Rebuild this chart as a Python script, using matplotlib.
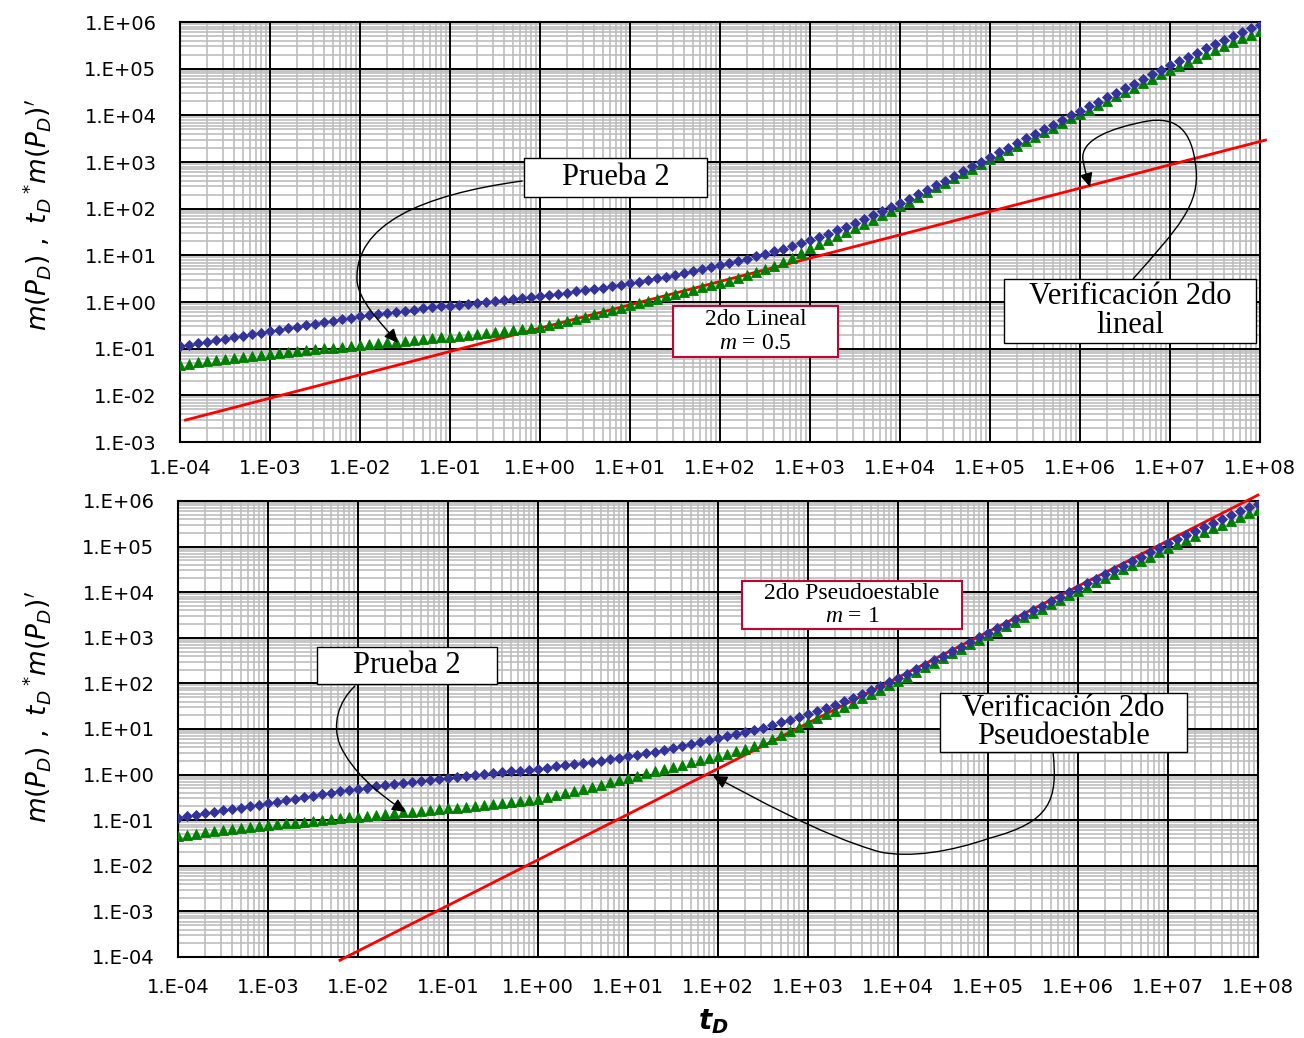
import numpy as np
import matplotlib
matplotlib.use("Agg")
import matplotlib.pyplot as plt
from matplotlib.ticker import LogLocator, FixedLocator, FuncFormatter, NullFormatter
from matplotlib.patches import Rectangle, FancyArrowPatch
from matplotlib.path import Path

# ---------------------------------------------------------------------------
# Data: dimensionless time (10 samples per decade) and "Prueba 2" response
# ---------------------------------------------------------------------------
td_exp = np.linspace(-4, 8, 121)
td = 10.0 ** td_exp

# log10 of m(P_D)
log_mpd = [
    -0.950, -0.917, -0.884, -0.851, -0.819, -0.787, -0.755, -0.723, -0.692, -0.661,
    -0.630, -0.596, -0.562, -0.529, -0.496, -0.464, -0.432, -0.401, -0.370, -0.340,
    -0.310, -0.283, -0.257, -0.232, -0.208, -0.184, -0.161, -0.139, -0.117, -0.096,
    -0.075, -0.054, -0.033, -0.013, 0.007, 0.027, 0.047, 0.068, 0.089, 0.111,
    0.133, 0.155, 0.178, 0.202, 0.227, 0.253, 0.280, 0.308, 0.337, 0.368,
    0.400, 0.434, 0.469, 0.506, 0.544, 0.584, 0.625, 0.667, 0.710, 0.754,
    0.800, 0.840, 0.883, 0.929, 0.978, 1.030, 1.085, 1.143, 1.204, 1.266,
    1.330, 1.396, 1.465, 1.537, 1.612, 1.690, 1.771, 1.854, 1.940, 2.029,
    2.120, 2.213, 2.308, 2.405, 2.503, 2.602, 2.702, 2.803, 2.905, 3.007,
    3.110, 3.209, 3.308, 3.407, 3.506, 3.605, 3.704, 3.803, 3.902, 4.001,
    4.100, 4.197, 4.294, 4.391, 4.488, 4.585, 4.682, 4.779, 4.876, 4.973,
    5.070, 5.163, 5.255, 5.346, 5.436, 5.525, 5.612, 5.697, 5.780, 5.861,
    5.940,
]

# log10 of t_D * m(P_D)'
log_dmpd = [
    -1.345, -1.319, -1.294, -1.269, -1.245, -1.221, -1.198, -1.175, -1.153, -1.131,
    -1.110, -1.090, -1.070, -1.051, -1.032, -1.013, -0.994, -0.975, -0.956, -0.938,
    -0.920, -0.902, -0.884, -0.866, -0.848, -0.830, -0.812, -0.794, -0.776, -0.758,
    -0.740, -0.722, -0.704, -0.686, -0.667, -0.648, -0.628, -0.607, -0.584, -0.559,
    -0.530, -0.494, -0.454, -0.410, -0.364, -0.316, -0.267, -0.218, -0.169, -0.119,
    -0.070, -0.022, 0.026, 0.074, 0.122, 0.170, 0.218, 0.266, 0.314, 0.362,
    0.410, 0.460, 0.513, 0.571, 0.635, 0.705, 0.781, 0.863, 0.951, 1.045,
    1.150, 1.234, 1.319, 1.405, 1.492, 1.580, 1.671, 1.764, 1.859, 1.954,
    2.050, 2.151, 2.252, 2.353, 2.454, 2.555, 2.656, 2.757, 2.858, 2.959,
    3.060, 3.157, 3.254, 3.351, 3.448, 3.545, 3.642, 3.739, 3.836, 3.933,
    4.030, 4.124, 4.218, 4.312, 4.406, 4.500, 4.594, 4.688, 4.782, 4.876,
    4.970, 5.058, 5.145, 5.231, 5.316, 5.400, 5.484, 5.567, 5.649, 5.730,
    5.810,
]

mpd = 10.0 ** np.array(log_mpd)
dmpd = 10.0 ** np.array(log_dmpd)

# Verification straight lines
# second linear flow, slope m = 0.5
td_lineal = [1.15e-4, 1e-3, 1e-2, 1e-1, 1e0, 1e1, 1e2, 1e3, 1e4, 1e5, 1e6, 1e7, 1e8, 1.15e8]
lineal_2do = [0.00295, 0.0087, 0.0275, 0.087, 0.275, 0.87, 2.75, 8.7,
              27.5, 87.0, 275.0, 870.0, 2750.0, 2950.0]
# second pseudo-steady state, slope m = 1
td_pseudo = [6.3e-3, 1e-2, 1e-1, 1e0, 1e1, 1e2, 1e3, 1e4, 1e5, 1e6, 1e7, 1e8]
pseudo_2do = [8.5e-5, 1.35e-4, 1.35e-3, 0.0135, 0.135, 1.35,
              13.5, 135.0, 1350.0, 13500.0, 1.35e5, 1.35e6]

# ---------------------------------------------------------------------------
plt.rcParams["mathtext.fontset"] = "custom"
plt.rcParams["mathtext.rm"] = "Liberation Serif"
plt.rcParams["mathtext.it"] = "Liberation Serif:italic"

SANS = "DejaVu Sans"
SERIF = "Liberation Serif"
BLUE = "#333399"
GREEN = "#008000"
RED = "#FF0000"
CRIMSON = "#CC0033"

fig = plt.figure(figsize=(13.04, 10.38), dpi=100)
W, H = 1304.0, 1038.0


def axes_at(left, top, right, bottom):
    return fig.add_axes([left / W, 1 - bottom / H, (right - left) / W, (bottom - top) / H])


def sci_label(v, pos):
    e = int(round(np.log10(v)))
    return f"1.E{e:+03d}"


def decades(lo, hi):
    return [10.0 ** e for e in range(int(round(np.log10(lo))), int(round(np.log10(hi))) + 1)]


def style_axes(ax, ylim, xpad, ypad):
    xlim = (1e-4, 1e8)
    ax.set_xscale("log")
    ax.set_yscale("log")
    ax.set_xlim(*xlim)
    ax.set_ylim(*ylim)
    for axis, lim in ((ax.xaxis, xlim), (ax.yaxis, ylim)):
        axis.set_major_locator(FixedLocator(decades(*lim)))
        axis.set_minor_locator(LogLocator(base=10, subs=np.arange(2, 10), numticks=200))
        axis.set_major_formatter(FuncFormatter(sci_label))
        axis.set_minor_formatter(NullFormatter())
    ax.tick_params(which="both", length=0)
    ax.tick_params(axis="x", which="major", pad=xpad, labelsize=14)
    ax.tick_params(axis="y", which="major", pad=ypad, labelsize=14)
    for lab in ax.get_xticklabels() + ax.get_yticklabels():
        lab.set_fontfamily(SANS)
    ax.grid(which="minor", color="#BEBEBE", lw=1.2)
    ax.grid(which="major", visible=False)
    ax.set_axisbelow(True)
    # decade lines drawn above the light minor grid
    for v in decades(*xlim):
        ax.axvline(v, color="black", lw=1.4, zorder=1)
    for v in decades(*ylim):
        ax.axhline(v, color="black", lw=1.4, zorder=1)
    for sp in ax.spines.values():
        sp.set_linewidth(1.5)
        sp.set_color("black")
        sp.set_zorder(2)


def plot_series(ax, line_td, line_vals):
    ax.plot(line_td, line_vals, color=RED, lw=2.0, zorder=3, clip_on=False)
    ax.plot(td, dmpd, ls="none", marker="^", ms=7.2, color=GREEN, mec=GREEN, mew=0.6, zorder=4)
    ax.plot(td, mpd, ls="none", marker="D", ms=5.2, color=BLUE, mec=BLUE, mew=0.6, zorder=5)


def box(ax, x0, y0, w, h, text, size, edge, lw=1.0, ls=1.0):
    ax.add_patch(Rectangle((x0, y0), w, h, transform=ax.transAxes, facecolor="white",
                           edgecolor=edge, lw=lw, zorder=8, clip_on=False))
    ax.text(x0 + w / 2, y0 + h / 2, text, transform=ax.transAxes, ha="center", va="center",
            fontsize=size, fontfamily=SERIF, zorder=9, linespacing=ls)


def curved_arrow(ax, pts):
    codes = [Path.MOVETO] + [Path.CURVE4] * (len(pts) - 1)
    arrow = FancyArrowPatch(path=Path(pts, codes), arrowstyle="-|>,head_length=0.6,head_width=0.28",
                            mutation_scale=14, color="black", lw=1.0,
                            transform=ax.transAxes, zorder=7, clip_on=False)
    ax.add_patch(arrow)


# ----------------------------- top panel -----------------------------------
ax1 = axes_at(180, 22, 1260, 442)
style_axes(ax1, (1e-3, 1e6), xpad=12, ypad=17)
plot_series(ax1, td_lineal, lineal_2do)

curved_arrow(ax1, [(0.3167, 0.6214), (0.2222, 0.5881), (0.1620, 0.5167), (0.1639, 0.3857),
                   (0.1648, 0.3381), (0.1852, 0.2857), (0.2019, 0.2357)])
curved_arrow(ax1, [(0.8824, 0.3881), (0.9241, 0.5095), (0.9444, 0.5643), (0.9407, 0.6524),
                   (0.9370, 0.7476), (0.9213, 0.7738), (0.8963, 0.7643),
                   (0.8611, 0.7476), (0.8333, 0.7190), (0.8361, 0.6714),
                   (0.8380, 0.6429), (0.8407, 0.6238), (0.8426, 0.6071)])

box(ax1, 0.3185, 0.5833, 0.1694, 0.0929, "Prueba 2", 22, "black")
box(ax1, 0.7630, 0.2357, 0.2333, 0.1524, "Verificación 2do\nlineal", 22, "black", ls=0.98)
box(ax1, 0.4565, 0.2024, 0.1528, 0.1214, "2do Lineal\n$m$ = 0.5", 17, CRIMSON, lw=1.5, ls=1.2)

# ----------------------------- bottom panel --------------------------------
ax2 = axes_at(178, 501, 1258, 957)
style_axes(ax2, (1e-4, 1e6), xpad=15, ypad=17)
plot_series(ax2, td_pseudo, pseudo_2do)

curved_arrow(ax2, [(0.1639, 0.5943), (0.1481, 0.5592), (0.1426, 0.5088), (0.1500, 0.4649),
                   (0.1611, 0.4057), (0.1870, 0.3553), (0.2111, 0.3180)])
curved_arrow(ax2, [(0.8102, 0.4496), (0.8148, 0.3443), (0.8083, 0.2961), (0.7519, 0.2610),
                   (0.7148, 0.2303), (0.6778, 0.2171), (0.6500, 0.2303),
                   (0.5944, 0.2675), (0.5296, 0.3553), (0.4954, 0.3969)])

box(ax2, 0.1287, 0.5987, 0.1667, 0.0811, "Prueba 2", 22, "black")
box(ax2, 0.5222, 0.7193, 0.2037, 0.1053, "2do Pseudoestable\n$m$ = 1", 17, CRIMSON, lw=1.5, ls=1.1)
box(ax2, 0.7056, 0.4496, 0.2287, 0.1294, "Verificación 2do\nPseudoestable", 22, "black", ls=0.98)

# ----------------------------- axis titles ---------------------------------
ylab = r"$m(P_D)\ ,\ t_D\,^{*}m(P_D)'$"
fig.text(37 / W, 1 - 215 / H, ylab, rotation=90, ha="center", va="center",
         fontsize=19, math_fontfamily="dejavusans")
fig.text(37 / W, 1 - 707 / H, ylab, rotation=90, ha="center", va="center",
         fontsize=19, math_fontfamily="dejavusans")
fig.text(713 / W, 1 - 1022 / H, r"$\mathbfit{t}_{\mathbfit{D}}$", ha="center", va="center",
         fontsize=20, math_fontfamily="dejavusans")

fig.savefig("out.png", dpi=100)
